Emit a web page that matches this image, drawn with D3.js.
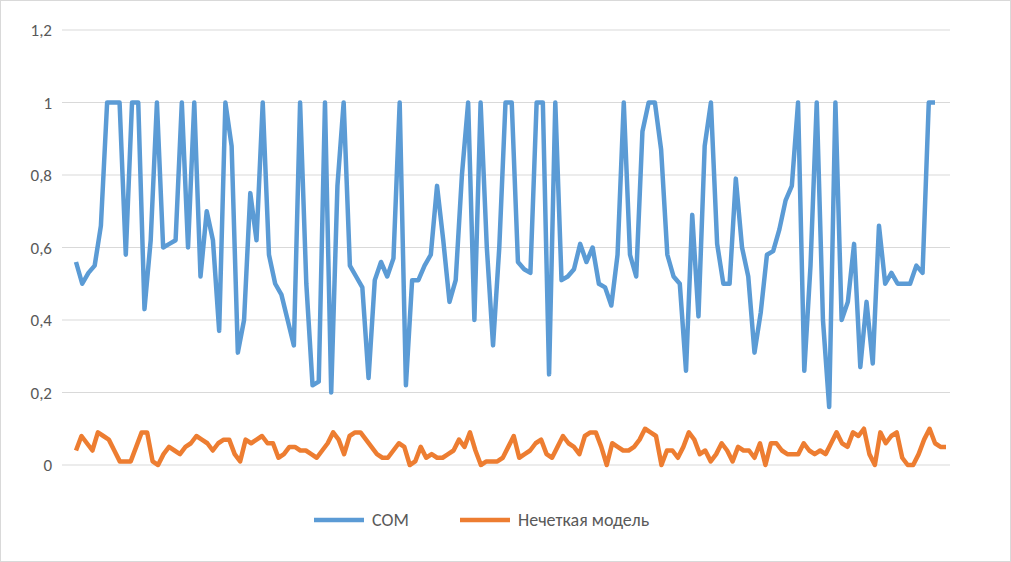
<!DOCTYPE html>
<html><head><meta charset="utf-8">
<script src="https://cdn.jsdelivr.net/npm/d3@7"></script>
<style>body{margin:0;background:#fff}</style>
</head><body>
<script>
// СОМ series
const som = [0.56,0.50,0.53,0.55,0.66,1,1,1,0.58,1,1,0.43,0.62,1,0.6,0.61,0.62,1,0.6,1,0.52,0.70,0.62,0.37,1,0.88,0.31,0.40,0.75,0.62,1,0.58,0.50,0.47,0.40,0.33,1,0.50,0.22,0.23,1,0.20,0.77,1,0.55,0.52,0.49,0.24,0.51,0.56,0.52,0.57,1,0.22,0.51,0.51,0.55,0.58,0.77,0.62,0.45,0.51,0.8,1,0.40,1,0.6,0.33,0.6,1,1,0.56,0.54,0.53,1,1,0.25,1,0.51,0.52,0.54,0.61,0.56,0.60,0.50,0.49,0.44,0.58,1,0.58,0.52,0.92,1,1,0.87,0.58,0.52,0.5,0.26,0.69,0.41,0.88,1,0.61,0.50,0.50,0.79,0.60,0.52,0.31,0.42,0.58,0.59,0.65,0.73,0.77,1,0.26,0.55,1,0.40,0.16,1,0.40,0.45,0.61,0.27,0.45,0.28,0.66,0.50,0.53,0.50,0.50,0.50,0.55,0.53,1,1]
// Нечеткая модель series
const fuzzy = [0.04,0.08,0.06,0.04,0.09,0.08,0.07,0.04,0.01,0.01,0.01,0.05,0.09,0.09,0.01,0,0.03,0.05,0.04,0.03,0.05,0.06,0.08,0.07,0.06,0.04,0.06,0.07,0.07,0.03,0.01,0.07,0.06,0.07,0.08,0.06,0.06,0.02,0.03,0.05,0.05,0.04,0.04,0.03,0.02,0.04,0.06,0.09,0.07,0.03,0.08,0.09,0.09,0.07,0.05,0.03,0.02,0.02,0.04,0.06,0.05,0,0.01,0.05,0.02,0.03,0.02,0.02,0.03,0.04,0.07,0.05,0.09,0.04,0,0.01,0.01,0.01,0.02,0.05,0.08,0.02,0.03,0.04,0.06,0.07,0.03,0.02,0.05,0.08,0.06,0.05,0.03,0.08,0.09,0.09,0.05,0,0.06,0.05,0.04,0.04,0.05,0.07,0.10,0.09,0.08,0,0.04,0.04,0.02,0.05,0.09,0.07,0.03,0.04,0.01,0.03,0.06,0.04,0.01,0.05,0.04,0.04,0.02,0.06,0,0.06,0.06,0.04,0.03,0.03,0.03,0.06,0.04,0.03,0.04,0.03,0.06,0.09,0.06,0.05,0.09,0.08,0.10,0.03,0,0.09,0.06,0.08,0.09,0.02,0,0,0.03,0.07,0.10,0.06,0.05,0.05]
const yTicks = [0,0.2,0.4,0.6,0.8,1,1.2]
const seriesNames = ['СОМ','Нечеткая модель']
const colors = ['#5b9bd5','#ed7d31']

const W = 1011, H = 562
const svg = d3.select('body').append('svg').attr('width', W).attr('height', H)
  .style('font-family', 'Calibri, Carlito, "Liberation Sans", Arial, sans-serif')
svg.append('rect').attr('x', 0.5).attr('y', 0.5).attr('width', W - 1).attr('height', H - 1)
  .attr('fill', '#fff').attr('stroke', '#d9d9d9')

const y = d3.scaleLinear().domain([0, 1.2]).range([465, 30])
const xs = d3.scaleLinear().domain([0, som.length - 1]).range([76, 935])
const xf = d3.scaleLinear().domain([0, fuzzy.length - 1]).range([76, 946])

yTicks.forEach(t => {
  svg.append('line').attr('x1', 62).attr('x2', 950).attr('y1', y(t)).attr('y2', y(t))
    .attr('stroke', '#d9d9d9').attr('stroke-width', 1)
  svg.append('text').attr('x', 52).attr('y', y(t) + 6).attr('text-anchor', 'end')
    .attr('font-size', '17px').attr('fill', '#595959')
    .text(String(t).replace('.', ','))
})

const line = xsc => d3.line().x((d, i) => xsc(i)).y(d => y(d))
svg.append('path').datum(fuzzy).attr('d', line(xf)).attr('fill', 'none')
  .attr('stroke', colors[1]).attr('stroke-width', 4.5).attr('stroke-linejoin', 'round')
svg.append('path').datum(som).attr('d', line(xs)).attr('fill', 'none')
  .attr('stroke', colors[0]).attr('stroke-width', 4.5).attr('stroke-linejoin', 'round')

// Legend
const lx = [314, 460]
seriesNames.forEach((n, i) => {
  svg.append('line').attr('x1', lx[i]).attr('x2', lx[i] + 50).attr('y1', 520).attr('y2', 520)
    .attr('stroke', colors[i]).attr('stroke-width', 4.5)
  svg.append('text').attr('x', lx[i] + 58).attr('y', 526).attr('font-size', '18px')
    .attr('fill', '#595959').text(n)
})
</script>
</body></html>
